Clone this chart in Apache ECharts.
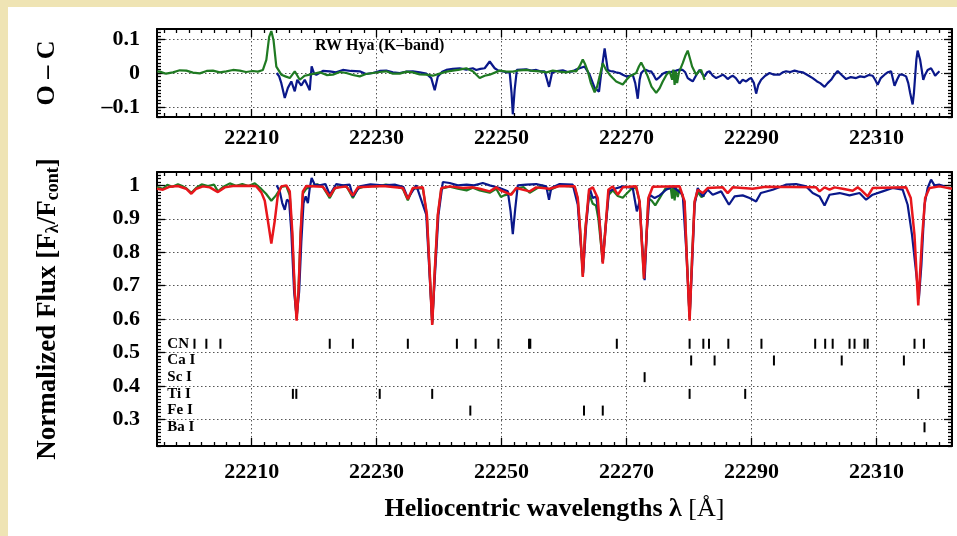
<!DOCTYPE html>
<html><head><meta charset="utf-8">
<script src="https://cdn.jsdelivr.net/npm/echarts@6.0.0/dist/echarts.min.js"></script>
<style>html,body{margin:0;padding:0;background:#fff}#c{width:957px;height:536px}</style>
</head><body><div id="c"></div>
<script>
// ---------- axis ranges & ticks ----------
const X_MIN = 22194.85, X_MAX = 22322.1;
const xMajorTicks = [22210, 22230, 22250, 22270, 22290, 22310];
const ocMajorTicks = [-0.1, 0, 0.1];
const fluxMajorTicks = [0.3, 0.4, 0.5, 0.6, 0.7, 0.8, 0.9, 1.0];

// ---------- O - C panel (residuals) ----------
const ocBlue = [[22214.0,0.0],[22214.4,-0.01],[22214.75,-0.03],[22215.3,-0.074],[22215.8,-0.044],[22216.35,-0.025],[22216.9,-0.054],[22217.3,-0.02],[22217.95,-0.037],[22218.5,-0.02],[22219.0,-0.039],[22219.3,-0.051],[22219.6,0.02],[22220.0,-0.002],[22220.35,-0.005],[22221.4,0.006],[22222.5,0.005],[22223.5,0.002],[22224.6,0.009],[22225.9,0.006],[22227.3,0.005],[22228.3,-0.003],[22229.4,0],[22230.5,0.006],[22231.55,0.007],[22232.6,0.002],[22233.7,0],[22234.8,0.004],[22235.8,0.005],[22236.9,0.002],[22237.95,-0.002],[22238.75,-0.015],[22239.3,-0.051],[22239.8,-0.01],[22240.5,0.004],[22241.15,0.009],[22242.2,0.012],[22243.3,0.014],[22244.35,0.01],[22245.4,0.014],[22245.95,0.009],[22246.6,0.012],[22247.3,0.014],[22248.1,0.034],[22248.9,0.014],[22249.5,0.007],[22250.2,0.005],[22250.8,0.002],[22251.3,0.002],[22251.6,-0.059],[22251.8,-0.122],[22252.1,-0.049],[22252.45,0.009],[22253.2,0.01],[22253.95,0.011],[22254.7,0.007],[22255.55,0.009],[22256.2,0.005],[22256.9,0.005],[22257.6,-0.041],[22258.1,0.002],[22258.9,0.006],[22259.8,0.008],[22260.6,0.003],[22261.4,0.005],[22261.9,0.01],[22262.5,0.014],[22263.3,0.019],[22264.1,-0.005],[22264.9,-0.044],[22265.6,-0.055],[22265.95,0],[22266.5,0.073],[22267.0,0.009],[22267.4,0.006],[22267.8,0.005],[22268.3,0.002],[22268.9,0],[22269.4,-0.005],[22269.95,-0.01],[22270.5,-0.008],[22271.0,-0.005],[22271.4,-0.03],[22271.8,-0.076],[22272.1,-0.02],[22272.35,0],[22272.8,0.008],[22273.15,0.009],[22273.6,0.005],[22273.95,0.005],[22274.4,-0.008],[22274.75,-0.02],[22275.3,-0.012],[22275.8,-0.002],[22276.4,0.003],[22276.9,0.002],[22277.5,0.005],[22277.95,0.007],[22278.5,0.01],[22279.0,0.009],[22279.4,0.002],[22279.8,-0.015],[22280.2,-0.02],[22280.6,-0.025],[22281.2,-0.005],[22281.7,0.009],[22282.1,-0.002],[22282.5,-0.01],[22282.9,0.002],[22283.3,0.005],[22283.8,-0.008],[22284.35,-0.015],[22284.9,-0.01],[22285.4,-0.005],[22285.8,-0.01],[22286.2,-0.018],[22286.6,-0.012],[22287.0,-0.008],[22287.5,-0.015],[22288.1,-0.031],[22288.6,-0.02],[22289.15,-0.025],[22289.6,-0.018],[22289.95,-0.015],[22290.4,-0.03],[22290.75,-0.061],[22291.1,-0.035],[22291.55,-0.02],[22292.2,-0.008],[22292.9,0],[22293.6,-0.005],[22294.5,-0.005],[22295.0,0.002],[22295.55,0.005],[22296.2,0.003],[22296.9,0.007],[22297.5,0.004],[22298.2,0.002],[22298.9,-0.005],[22299.8,-0.015],[22300.5,-0.025],[22301.0,-0.03],[22301.7,-0.041],[22302.2,-0.03],[22302.75,-0.02],[22303.3,-0.005],[22303.8,0.006],[22304.4,-0.005],[22305.15,-0.018],[22305.9,-0.012],[22306.75,-0.015],[22307.4,-0.01],[22308.1,-0.012],[22308.8,-0.006],[22309.4,-0.008],[22309.8,-0.02],[22310.2,-0.035],[22310.7,-0.015],[22311.3,-0.005],[22311.8,0.002],[22312.35,0.005],[22312.9,-0.038],[22313.3,-0.02],[22313.7,-0.005],[22314.2,-0.005],[22314.75,-0.01],[22315.1,-0.03],[22315.4,-0.059],[22315.8,-0.093],[22316.0,-0.06],[22316.2,-0.01],[22316.4,0.04],[22316.6,0.066],[22317.0,0.039],[22317.5,-0.02],[22317.8,-0.005],[22318.2,0.009],[22318.5,0.012],[22318.75,0.014],[22319.1,0.003],[22319.4,-0.008],[22319.8,0.0],[22320.1,0.005]];

const ocGreen = [[22194.9,0.005],[22195.3,0.004],[22196.3,-0.002],[22197.4,0.002],[22198.5,0.008],[22199.55,0.007],[22200.6,0.001],[22201.7,-0.001],[22202.8,0.006],[22203.8,0.007],[22204.9,0.002],[22205.95,0.005],[22207.0,0.009],[22208.1,0.007],[22209.1,0.003],[22210.2,0.006],[22211.0,0.004],[22211.8,0.009],[22212.35,0.039],[22212.8,0.107],[22213.15,0.124],[22213.5,0.097],[22213.95,0.019],[22214.75,-0.005],[22215.4,-0.01],[22216.1,-0.015],[22216.9,0.005],[22217.7,-0.02],[22218.5,-0.008],[22219.3,-0.005],[22220.9,0.002],[22222.0,-0.006],[22223.0,-0.005],[22224.1,0.003],[22225.15,0],[22226.2,-0.006],[22227.3,-0.01],[22228.3,-0.003],[22229.4,0],[22230.5,0.003],[22231.55,0.005],[22232.6,-0.002],[22233.7,-0.002],[22234.8,0.004],[22235.8,0.002],[22236.9,-0.004],[22237.95,-0.005],[22239.0,-0.008],[22240.1,-0.002],[22241.2,0.004],[22242.2,0.007],[22243.3,0.01],[22244.35,0.014],[22245.4,0.005],[22246.5,-0.015],[22247.3,-0.008],[22248.1,-0.005],[22249.7,0.007],[22250.8,0.004],[22251.8,0.004],[22252.9,0.008],[22254.0,0.009],[22255.0,0.006],[22256.1,0.005],[22257.2,0.002],[22258.2,0.007],[22259.3,0.004],[22260.35,0.002],[22261.3,0.006],[22261.95,0.005],[22262.5,0.02],[22263.0,0.04],[22263.4,0.025],[22263.8,0.005],[22264.3,-0.03],[22264.9,-0.057],[22265.3,-0.04],[22265.7,-0.01],[22266.2,0.029],[22266.7,0.01],[22267.3,-0.005],[22267.8,-0.015],[22268.35,-0.025],[22269.4,-0.034],[22270.0,-0.02],[22270.5,-0.01],[22271.0,-0.005],[22271.55,0],[22272.0,0.02],[22272.35,0.031],[22272.8,0.015],[22273.4,-0.01],[22274.0,-0.04],[22274.75,-0.059],[22275.3,-0.045],[22275.8,-0.025],[22276.4,-0.005],[22276.9,0.005],[22277.3,-0.02],[22277.5,0.01],[22277.7,-0.035],[22277.9,0.005],[22278.1,-0.03],[22278.4,0.002],[22279.0,0.029],[22279.4,0.05],[22279.8,0.066],[22280.2,0.04],[22280.5,0.019],[22281.15,-0.005],[22281.6,0.005],[22281.95,0.009],[22282.5,-0.02]];

// ---------- normalized flux panel ----------
const fluxModelRed = [[22194.85,0.99],[22195.8,0.987],[22196.9,0.996],[22198.2,0.998],[22199.5,0.99],[22200.35,0.975],[22201.15,0.99],[22202.2,0.997],[22203.3,0.994],[22204.6,0.98],[22205.7,0.994],[22207.0,0.998],[22209.7,0.999],[22210.75,0.997],[22211.55,0.979],[22212.1,0.954],[22212.6,0.894],[22213.15,0.826],[22213.7,0.894],[22214.2,0.972],[22214.75,0.997],[22215.55,1.0],[22216.1,0.982],[22216.5,0.862],[22216.9,0.681],[22217.2,0.595],[22217.5,0.681],[22217.85,0.862],[22218.2,0.982],[22218.75,0.998],[22221.4,0.996],[22222.5,0.967],[22223.3,0.992],[22225.15,0.997],[22226.2,0.97],[22227.0,0.994],[22231.0,0.998],[22234.2,0.992],[22235.0,0.959],[22235.8,0.992],[22237.4,0.994],[22238.05,0.912],[22238.5,0.741],[22238.9,0.582],[22239.3,0.741],[22239.8,0.912],[22240.35,0.992],[22241.7,0.997],[22243.8,0.992],[22245.4,0.994],[22246.5,0.99],[22248.1,0.982],[22249.15,0.994],[22249.95,0.984],[22251.55,0.972],[22252.35,0.992],[22254.5,0.982],[22255.55,0.994],[22257.7,0.99],[22259.3,0.998],[22261.7,0.997],[22262.2,0.962],[22262.6,0.862],[22263.0,0.726],[22263.4,0.862],[22264.0,0.987],[22264.6,0.994],[22265.4,0.962],[22265.8,0.862],[22266.2,0.766],[22266.6,0.862],[22267.1,0.987],[22267.8,0.997],[22268.6,0.972],[22269.4,0.994],[22271.55,0.997],[22272.1,0.952],[22272.45,0.831],[22272.8,0.721],[22273.15,0.831],[22273.5,0.962],[22274.2,0.996],[22278.5,0.997],[22279.3,0.952],[22279.65,0.781],[22280.1,0.595],[22280.5,0.781],[22280.9,0.952],[22281.4,0.987],[22282.2,0.977],[22283.0,0.992],[22285.4,0.994],[22286.2,0.977],[22287.0,0.994],[22290.2,0.99],[22292.3,0.996],[22300.35,0.994],[22300.9,0.982],[22301.7,0.994],[22302.5,0.987],[22303.3,0.994],[22304.6,0.99],[22306.2,0.984],[22307.0,0.994],[22307.5,0.987],[22308.6,0.967],[22309.4,0.992],[22314.75,0.994],[22315.5,0.962],[22316.1,0.85],[22316.7,0.641],[22317.3,0.841],[22317.8,0.962],[22318.5,0.992],[22320.1,0.997],[22322.1,0.99]];

const fluxObsBlue = [[22214.0,1.0],[22214.5,0.982],[22214.9,0.947],[22215.3,0.927],[22215.65,0.957],[22216.0,0.952],[22216.35,0.862],[22216.8,0.681],[22217.2,0.606],[22217.6,0.681],[22217.95,0.831],[22218.3,0.947],[22218.65,0.967],[22219.0,0.947],[22219.3,0.992],[22219.6,1.022],[22220.1,1.002],[22220.9,1.0],[22221.8,1.004],[22222.5,0.972],[22223.55,1.004],[22224.6,1.0],[22225.7,1.002],[22226.2,0.967],[22227.3,0.997],[22229.0,1.003],[22231.0,1.0],[22233.0,1.002],[22234.3,0.995],[22235.0,0.962],[22236.35,1.0],[22237.95,0.912],[22238.9,0.59],[22239.9,0.912],[22240.6,1.01],[22241.7,1.007],[22243.0,1.0],[22244.4,1.002],[22245.6,1.0],[22247.0,1.007],[22248.1,1.0],[22249.7,0.992],[22251.0,0.982],[22251.45,0.922],[22251.8,0.854],[22252.2,0.932],[22252.6,1.0],[22253.95,1.002],[22255.55,1.004],[22257.15,0.997],[22257.6,0.957],[22257.95,0.992],[22259.3,1.004],[22261.4,1.002],[22262.2,0.942],[22262.6,0.841],[22263.05,0.737],[22263.55,0.882],[22264.1,0.992],[22264.6,0.962],[22265.15,0.967],[22265.7,0.892],[22266.2,0.771],[22266.75,0.892],[22267.2,0.982],[22268.1,0.99],[22269.4,0.997],[22271.0,0.992],[22271.65,0.922],[22272.1,0.952],[22272.45,0.841],[22272.9,0.716],[22273.25,0.862],[22273.7,0.972],[22274.5,0.962],[22275.3,0.97],[22276.35,0.987],[22277.4,0.997],[22279.0,0.972],[22279.55,0.811],[22280.1,0.606],[22280.5,0.761],[22280.9,0.942],[22281.4,0.992],[22282.2,0.967],[22283.0,0.987],[22283.8,0.972],[22285.15,0.982],[22286.4,0.942],[22287.3,0.967],[22288.6,0.97],[22289.7,0.962],[22290.75,0.952],[22291.5,0.977],[22293.4,0.987],[22295.5,1.002],[22297.15,1.004],[22298.75,0.997],[22299.8,0.977],[22300.9,0.967],[22301.7,0.94],[22302.5,0.972],[22304.1,0.977],[22305.7,0.97],[22307.3,0.977],[22308.35,0.957],[22309.4,0.972],[22311.0,0.982],[22312.6,0.992],[22314.2,0.987],[22315.0,0.942],[22315.7,0.852],[22316.35,0.741],[22316.8,0.661],[22317.2,0.761],[22317.7,0.942],[22318.2,0.992],[22318.75,1.017],[22319.3,1.0],[22320.1,1.002],[22320.9,0.997]];

const fluxObsGreen = [[22194.85,0.995],[22195.8,0.99],[22196.5,1.002],[22197.3,0.996],[22198.2,1.003],[22199.0,0.997],[22199.5,0.992],[22200.35,0.978],[22201.15,0.993],[22202.0,1.003],[22203.0,0.998],[22204.0,1.002],[22204.6,0.982],[22205.5,0.996],[22206.5,1.006],[22207.5,0.999],[22208.5,1.004],[22209.5,0.998],[22210.5,1.006],[22211.5,0.99],[22212.3,0.975],[22213.15,0.954],[22213.9,0.97],[22214.75,0.995],[22215.55,0.998],[22216.1,0.97],[22216.5,0.85],[22216.9,0.68],[22217.2,0.6],[22217.5,0.69],[22217.85,0.86],[22218.2,0.975],[22218.75,0.99],[22219.5,0.997],[22220.5,1.003],[22221.4,0.995],[22222.5,0.962],[22223.3,0.99],[22224.5,1.0],[22225.3,0.994],[22226.2,0.962],[22227.0,0.99],[22228.5,1.0],[22230.0,0.997],[22231.5,1.002],[22233.0,0.998],[22234.2,0.99],[22235.0,0.955],[22235.8,0.99],[22237.4,0.992],[22238.05,0.91],[22238.5,0.74],[22238.9,0.585],[22239.3,0.74],[22239.8,0.91],[22240.35,0.99],[22241.7,0.996],[22243.0,0.99],[22244.4,0.985],[22245.4,0.993],[22246.5,0.985],[22248.1,0.978],[22249.15,0.99],[22249.9,0.965],[22250.4,0.97],[22251.55,0.975],[22252.35,0.99],[22253.5,0.995],[22254.5,0.978],[22255.55,0.99],[22256.5,1.0],[22257.7,0.985],[22259.3,1.0],[22260.5,0.998],[22261.7,0.995],[22262.2,0.96],[22262.6,0.86],[22263.0,0.73],[22263.4,0.87],[22264.0,0.975],[22264.6,0.945],[22265.1,0.94],[22265.5,0.9],[22266.2,0.77],[22266.6,0.87],[22267.1,0.97],[22267.8,0.985],[22268.6,0.968],[22269.4,0.963],[22270.0,0.975],[22270.8,0.99],[22271.55,0.993],[22272.1,0.95],[22272.45,0.83],[22272.8,0.72],[22273.15,0.83],[22273.5,0.96],[22274.0,0.955],[22274.6,0.94],[22275.4,0.965],[22276.2,0.99],[22277.1,0.99],[22277.3,0.96],[22277.5,1.0],[22277.7,0.955],[22277.9,0.995],[22278.2,0.965],[22278.5,0.99],[22279.3,0.95],[22279.65,0.79],[22280.1,0.6],[22280.5,0.79],[22280.9,0.95],[22281.4,0.98],[22282.0,0.965],[22282.5,0.97]];

// ---------- line identifications ----------
const rowLabels = ['CN', 'Ca I', 'Sc I', 'Ti I', 'Fe I', 'Ba I'];
const rowLevels = [0.526, 0.476, 0.426, 0.376, 0.326, 0.276];
const cnLines = [22200.85,22202.75,22205.0,22222.5,22226.2,22235.0,22242.85,22245.85,22249.5,22254.4,22254.6,22268.45,22280.1,22282.3,22283.2,22286.3,22291.6,22300.2,22301.8,22303.0,22305.7,22306.5,22308.1,22308.6,22316.1,22317.6];
const caLines = [22280.35,22284.1,22293.6,22304.45,22314.4];
const scLines = [22272.9];
const tiLines = [22216.6,22217.15,22230.5,22238.9,22280.1,22289.0,22316.7];
const feLines = [22245.0,22263.2,22266.2];
const baLines = [22317.7];
const lineLists = [cnLines, caLines, scLines, tiLines, feLines, baLines];
const ROW_LABEL_X = 22196.5;

// ---------- helpers ----------
function steps(a, b, s) { const out = []; const n = Math.round((b - a) / s); for (let i = 0; i <= n; i++) out.push(+(a + i * s).toFixed(4)); return out; }
const xMinorTicks = steps(22196, 22322, 2).filter(v => !xMajorTicks.includes(v));
const ocMinorTicks = steps(-0.13, 0.13, 0.01);
const fluxMinorTicks = steps(0.22, 1.04, 0.01);

const FONT = 'Liberation Serif';
const lbl = (size) => ({ fontFamily: FONT, fontWeight: 'bold', fontSize: size, color: '#000' });
const axisLineStyle = { show: true, onZero: false, lineStyle: { color: '#000', width: 2 } };
const noLine = { show: false, onZero: false };
const tickStyle = { color: '#000', width: 1.3 };
const gridLine = { show: true, lineStyle: { type: [1.5, 2.5], color: '#555', width: 1 } };
const fmt = v => (v < 0 ? '\u2013' + String(Math.abs(v)) : String(v));

function xAxesFor(grid, margin) {
  const base = { type: 'value', gridIndex: grid, min: X_MIN, max: X_MAX };
  return [
    { ...base, position: 'bottom', axisLine: axisLineStyle,
      axisTick: { show: true, inside: true, length: 8, customValues: xMajorTicks, lineStyle: tickStyle },
      axisLabel: { show: true, customValues: xMajorTicks, margin: margin, ...lbl(22), formatter: v => String(v) },
      splitLine: gridLine },
    { ...base, position: 'bottom', axisLine: noLine,
      axisTick: { show: true, inside: true, length: 4, customValues: xMinorTicks, lineStyle: tickStyle },
      axisLabel: { show: false }, splitLine: { show: false } },
    { ...base, position: 'top', axisLine: axisLineStyle,
      axisTick: { show: true, inside: true, length: 8, customValues: xMajorTicks, lineStyle: tickStyle },
      axisLabel: { show: false }, splitLine: { show: false } },
    { ...base, position: 'top', axisLine: noLine,
      axisTick: { show: true, inside: true, length: 4, customValues: xMinorTicks, lineStyle: tickStyle },
      axisLabel: { show: false }, splitLine: { show: false } }
  ];
}
function yAxesFor(grid, min, max, major, minor, nameCfg) {
  const base = { type: 'value', gridIndex: grid, min: min, max: max };
  return [
    { ...base, position: 'left', ...nameCfg, axisLine: axisLineStyle,
      axisTick: { show: true, inside: true, length: 8, customValues: major, lineStyle: tickStyle },
      axisLabel: { show: true, customValues: major, margin: 17, ...lbl(22), formatter: fmt },
      splitLine: gridLine },
    { ...base, position: 'left', axisLine: noLine,
      axisTick: { show: true, inside: true, length: 4, customValues: minor, lineStyle: tickStyle },
      axisLabel: { show: false }, splitLine: { show: false } },
    { ...base, position: 'right', axisLine: axisLineStyle,
      axisTick: { show: true, inside: true, length: 8, customValues: major, lineStyle: tickStyle },
      axisLabel: { show: false }, splitLine: { show: false } },
    { ...base, position: 'right', axisLine: noLine,
      axisTick: { show: true, inside: true, length: 4, customValues: minor, lineStyle: tickStyle },
      axisLabel: { show: false }, splitLine: { show: false } }
  ];
}

const markerData = [];
lineLists.forEach((list, i) => list.forEach(w => markerData.push([w, rowLevels[i]])));

const BLUE = '#0a188a', GREEN = '#1f7a22', RED = '#e8161c';
const lineSeries = (data, color, width, xi, yi, z) => ({
  type: 'line', data: data, xAxisIndex: xi, yAxisIndex: yi, showSymbol: false, symbol: 'none',
  lineStyle: { color: color, width: width }, itemStyle: { color: color }, z: z, silent: true, clip: true
});

const chart = echarts.init(document.getElementById('c'), null, { renderer: 'canvas' });
chart.setOption({
  animation: false,
  backgroundColor: '#ffffff',
  graphic: [
    { type: 'rect', shape: { x: 0, y: 0, width: 957, height: 7 }, style: { fill: '#efe4b4' }, silent: true },
    { type: 'rect', shape: { x: 0, y: 0, width: 8, height: 536 }, style: { fill: '#efe4b4' }, silent: true }
  ],
  title: { text: 'RW Hya (K\u2013band)', left: 315, top: 38, padding: 0, textStyle: lbl(16) },
  grid: [
    { left: 157, top: 29, width: 795, height: 88 },
    { left: 157, top: 172, width: 795, height: 274 }
  ],
  xAxis: [
    ...xAxesFor(0, 10),
    ...xAxesFor(1, 15).map((a, i) => i === 0 ? {
      ...a, name: 'Heliocentric wavelengths \u03bb {n|[\u00c5]}', nameLocation: 'middle', nameGap: 50,
      nameTextStyle: { ...lbl(26), rich: { n: { fontFamily: FONT, fontWeight: 'normal', fontSize: 26, color: '#000' } } }
    } : a)
  ],
  yAxis: [
    ...yAxesFor(0, -0.13, 0.13, ocMajorTicks, ocMinorTicks, {
      name: 'O \u2013 C', nameLocation: 'middle', nameRotate: 90, nameGap: 97, nameTextStyle: lbl(26)
    }),
    ...yAxesFor(1, 0.22, 1.04, fluxMajorTicks, fluxMinorTicks, {
      name: 'Normalized Flux [F{s|\u03bb}/F{s|cont}]', nameLocation: 'middle', nameRotate: 90, nameGap: 95,
      nameTextStyle: { ...lbl(27), rich: { s: { fontFamily: FONT, fontWeight: 'bold', fontSize: 18, color: '#000', verticalAlign: 'bottom', padding: [9, 0, 0, 0] } } }
    })
  ],
  series: [
    lineSeries(ocBlue, BLUE, 2.2, 0, 0, 3),
    lineSeries(ocGreen, GREEN, 2.2, 0, 0, 4),
    lineSeries(fluxObsGreen, GREEN, 2.2, 4, 4, 3),
    lineSeries(fluxObsBlue, BLUE, 2.2, 4, 4, 4),
    lineSeries(fluxModelRed, RED, 2.5, 4, 4, 5),
    { type: 'scatter', xAxisIndex: 4, yAxisIndex: 4, symbol: 'rect', symbolSize: [2, 10],
      itemStyle: { color: '#000', opacity: 1 }, data: markerData, silent: true, z: 6 },
    { type: 'scatter', xAxisIndex: 4, yAxisIndex: 4, symbolSize: 0, silent: true, z: 6,
      itemStyle: { color: '#000', opacity: 1 },
      data: rowLabels.map((n, i) => ({ value: [ROW_LABEL_X, rowLevels[i]], name: n })),
      label: { show: true, position: 'right', distance: 0, formatter: '{b}', opacity: 1, ...lbl(15) } }
  ]
});
</script></body></html>
